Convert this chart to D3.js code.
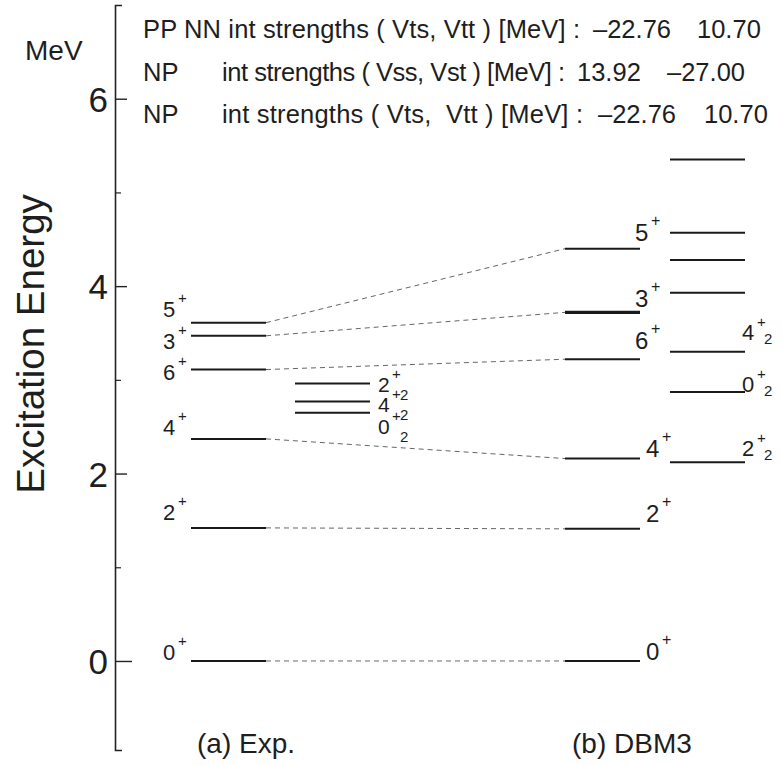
<!DOCTYPE html>
<html>
<head>
<meta charset="utf-8">
<script src="https://cdn.jsdelivr.net/npm/d3@7"></script>
<style>
  body { margin: 0; background: #fff; }
  svg { font-family: "Liberation Sans", Arial, sans-serif; }
  text { fill: #1e1e1e; }
</style>
</head>
<body>
<div id="chart"></div>
<script>
// Levels (MeV)
const expSpins = ['0+', '2+', '4+', '6+', '3+', '5+'];
const expEnergy = [0, 1.42, 2.37, 3.11, 3.47, 3.61];
const expExtraSpins = ['2+2', '4+2', '0+2'];
const expExtraEnergy = [2.96, 2.77, 2.65];
const dbmSpins = ['0+', '2+', '4+', '6+', '3+', '5+'];
const dbmEnergy = [0, 1.41, 2.16, 3.22, 3.72, 4.40];
const dbmExtraSpins = ['2+2', '0+2', '4+2', '', '', '', ''];
const dbmExtraEnergy = [2.12, 2.87, 3.30, 3.93, 4.28, 4.57, 5.35];

const majorTicks = [0, 2, 4, 6];
const minorTicks = [1, 3, 5];
const columnNames = ['(a) Exp.', '(b) DBM3'];

const headerLines = [
  ['PP NN int strengths ( Vts, Vtt ) [MeV] :', '\u201322.76', '10.70'],
  ['NP', 'int strengths ( Vss, Vst ) [MeV] :', '13.92', '\u201327.00'],
  ['NP', 'int strengths ( Vts,  Vtt ) [MeV] :', '\u201322.76', '10.70']
];

const width = 782, height = 766;
const svg = d3.select('#chart').append('svg')
  .attr('width', width)
  .attr('height', height);

const y = d3.scaleLinear().domain([-0.95, 7]).range([750, 5]);
const xCol = d3.scaleOrdinal()
  .domain(['exp', 'expX', 'dbm', 'dbmX'])
  .range([191, 295, 565, 670]);
const levelLen = 75;

// Axis
const axisX = 115;
const axisG = svg.append('g')
  .attr('transform', `translate(${axisX},0)`)
  .call(d3.axisLeft(y).tickValues(majorTicks).tickSize(-12).tickSizeOuter(-7).tickPadding(7).tickFormat(d3.format('d')));
axisG.select('.domain').attr('stroke', '#222').attr('stroke-width', 1.6);
axisG.selectAll('.tick line').attr('stroke', '#222').attr('stroke-width', 1.4)
  .attr('x2', d => d === 0 ? 17 : 12);
axisG.selectAll('.tick text')
  .attr('font-size', 35)
  .attr('font-family', '"Liberation Sans", Arial, sans-serif')
  .attr('dy', '0.36em')
  .attr('fill', '#222');

svg.append('g')
  .attr('transform', `translate(${axisX},0)`)
  .call(d3.axisLeft(y).tickValues(minorTicks).tickSize(-6).tickFormat(''))
  .call(g => g.select('.domain').remove())
  .selectAll('.tick line').attr('stroke', '#222').attr('stroke-width', 1.2);

svg.append('text')
  .attr('x', 25).attr('y', 60)
  .attr('font-size', 28)
  .text('MeV');

svg.append('text')
  .attr('transform', `translate(44,${(193 + 495) / 2}) rotate(-90)`)
  .attr('text-anchor', 'middle')
  .attr('font-size', 38.5)
  .text('Excitation Energy');

// Header: [x, width] of each piece
const headerX = [[143, 593, 697], [143, 222, 577, 667], [143, 222, 598, 704]];
const headerLen = [[437, null, null], [null, 343, null, null], [null, 361, null, null]];
const headerY = [38, 81, 123];
headerLines.forEach((parts, i) => {
  parts.forEach((t, j) => {
    const txt = svg.append('text')
      .attr('x', headerX[i][j]).attr('y', headerY[i])
      .attr('font-size', 25.5)
      .attr('xml:space', 'preserve')
      .text(t);
    if (headerLen[i][j]) txt.attr('textLength', headerLen[i][j]).attr('lengthAdjust', 'spacing');
  });
});

// Dashed connections exp -> DBM3
svg.append('g')
  .selectAll('line')
  .data(expSpins.map((s, i) => ({ a: expEnergy[i], b: dbmEnergy[dbmSpins.indexOf(s)] })))
  .join('line')
    .attr('x1', xCol('exp') + levelLen)
    .attr('x2', xCol('dbm'))
    .attr('y1', d => y(d.a))
    .attr('y2', d => y(d.b))
    .attr('stroke', '#666')
    .attr('stroke-width', 1)
    .attr('stroke-dasharray', '5,4');

// Level lines
const levels = [
  ...expSpins.map((s, i) => ({ col: 'exp', spin: s, e: expEnergy[i] })),
  ...expExtraSpins.map((s, i) => ({ col: 'expX', spin: s, e: expExtraEnergy[i] })),
  ...dbmSpins.map((s, i) => ({ col: 'dbm', spin: s, e: dbmEnergy[i] })),
  ...dbmExtraSpins.map((s, i) => ({ col: 'dbmX', spin: s, e: dbmExtraEnergy[i] }))
];

svg.append('g')
  .selectAll('line')
  .data(levels)
  .join('line')
    .attr('x1', d => xCol(d.col))
    .attr('x2', d => xCol(d.col) + levelLen)
    .attr('y1', d => y(d.e))
    .attr('y2', d => y(d.e))
    .attr('stroke', '#1a1a1a')
    .attr('stroke-width', d => d.col === 'dbm' && d.spin === '3+' ? 3.2 : 2);

// Label layout: x offset from line start, baseline shift from the line
const labelStyle = {
  exp:  { fs: 22, supDx: 15, supDy: -14, supFs: 15 },
  expX: { fs: 21, supDx: 14, supDy: -13, supFs: 15, subDx: 22, subDy: 8, subFs: 15 },
  dbm:  { fs: 24, supDx: 16, supDy: -15, supFs: 16 },
  dbmX: { fs: 22, supDx: 15, supDy: -13, supFs: 15, subDx: 22, subDy: 4, subFs: 15 }
};
const labelShift = {
  'exp 0+': [-28, -1], 'exp 2+': [-28, -8], 'exp 4+': [-28, -4],
  'exp 6+': [-28, 10], 'exp 3+': [-28, 13], 'exp 5+': [-28, -6],
  'expX 2+2': [83, 8], 'expX 4+2': [83, 11], 'expX 0+2': [83, 21],
  'dbm 0+': [81, -1], 'dbm 2+': [81, -7], 'dbm 4+': [81, -2],
  'dbm 6+': [70, -10], 'dbm 3+': [70, -5], 'dbm 5+': [70, -8],
  'dbmX 2+2': [72, -6], 'dbmX 0+2': [72, 0], 'dbmX 4+2': [72, -12]
};

const labelG = svg.append('g');
levels.filter(d => d.spin).forEach(d => {
  const st = labelStyle[d.col];
  const [dx, dy] = labelShift[`${d.col} ${d.spin}`];
  const x = xCol(d.col) + dx;
  const yb = y(d.e) + dy;
  labelG.append('text').attr('x', x).attr('y', yb).attr('font-size', st.fs).text(d.spin[0]);
  labelG.append('text').attr('x', x + st.supDx).attr('y', yb + st.supDy).attr('font-size', st.supFs).text('+');
  if (d.spin.length > 2) {
    labelG.append('text').attr('x', x + st.subDx).attr('y', yb + st.subDy).attr('font-size', st.subFs).text(d.spin[2]);
  }
});

// Column titles
svg.append('g')
  .selectAll('text')
  .data(columnNames)
  .join('text')
    .attr('x', (d, i) => i === 0 ? 197 : 572)
    .attr('y', 753)
    .attr('font-size', 28)
    .text(d => d);
</script>
</body>
</html>
